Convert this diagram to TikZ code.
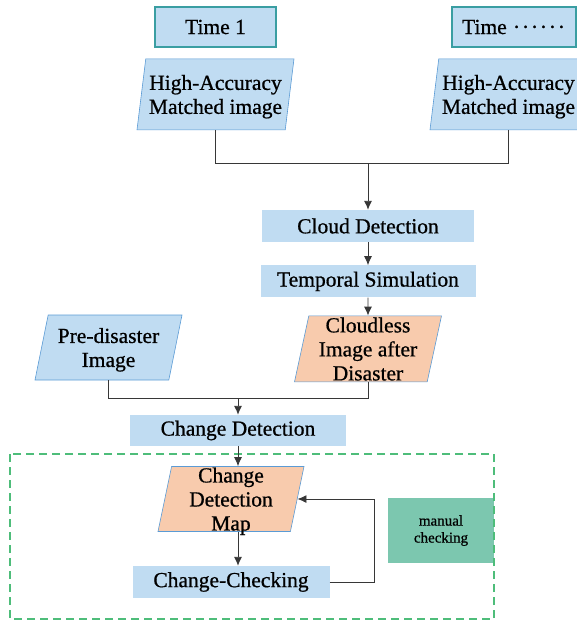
\documentclass[tikz,border=0pt]{standalone}
\usepackage{fontspec}
\setmainfont{LiberationSerif}[Extension=.ttf, UprightFont=*-Regular, BoldFont=*-Bold, UprightFeatures={FakeBold=0.7}]
\usetikzlibrary{positioning,shapes.geometric,arrows.meta}
\definecolor{boxclr}{RGB}{192,220,242}
\definecolor{rimclr}{RGB}{58,158,162}
\definecolor{edgeclr}{RGB}{91,155,213}
\definecolor{mapclr}{RGB}{248,203,173}
\definecolor{handclr}{RGB}{124,199,175}
\definecolor{zoneclr}{RGB}{78,189,122}
\definecolor{lineclr}{RGB}{55,55,55}
\newcommand\timedots{\foreach \k in {1,...,6}{\kern0.9pt\textperiodcentered\kern0.9pt}}
\tikzset{ %
  ,>={Latex[length=9pt,width=8pt]}
  ,every node/.style={font=\fontsize{21.5}{24}\selectfont, align=center, inner sep=0}
  ,timebox/.style={draw=rimclr, line width=1.2pt, fill=boxclr, minimum height=40pt}
  ,procbox/.style={fill=boxclr, minimum height=32pt}
  ,imgblk/.style 2 args={trapezium, trapezium left angle=#1, trapezium right angle=#2, trapezium stretches body, draw=edgeclr, line width=0.6pt, text depth=0pt}
  ,inblk/.style 2 args={imgblk={#1}{#2}, fill=boxclr}
  ,outblk/.style 2 args={imgblk={#1}{#2}, fill=mapclr}
  ,handbox/.style={fill=handclr, minimum width=106pt, minimum height=65pt, font=\fontsize{15}{17}\selectfont}
  ,zone/.style={draw=zoneclr, line width=1.2pt, dash pattern=on 8pt off 5pt}
  ,link/.style={draw=lineclr, line width=0.9pt}
}

\begin{document}
\begin{tikzpicture}[x=1pt, y=-1pt]
  \useasboundingbox (0,0) rectangle (577,621);
  % images of every date
  \node[timebox, minimum width=121pt] (t1) at (215.5,27) {Time 1};
  \node[timebox, minimum width=124pt] (tn) at (514,27) {Time \timedots};
  \node[inblk={77.3}{102.7}, minimum width=157pt, minimum height=71pt, below=11pt of t1] (hm1) {High-Accuracy\\Matched image};
  \node[inblk={77.3}{102.7}, minimum width=157pt, minimum height=71pt, below=11pt of tn, xshift=-5.5pt] (hmn) {High-Accuracy\\Matched image};
  % cloud removal
  \node[procbox, minimum width=212pt] (cloud) at (368,226) {Cloud Detection};
  \node[procbox, minimum width=215pt, below=23pt of cloud] (temp) {Temporal Simulation};
  \node[outblk={77.2}{102.8}, minimum width=147pt, minimum height=66pt, below=18pt of temp] (clear) {Cloudless\\Image after\\Disaster};
  \node[inblk={71.3}{108.7}, minimum width=147pt, minimum height=65pt] (pre) at (108.5,347.5) {Pre-disaster\\Image};
  % detection and checking
  \node[procbox, minimum width=216pt, minimum height=31pt] (chg) at (238,430.5) {Change Detection};
  \node[outblk={77.8}{102.2}, minimum width=146pt, minimum height=65pt, below=20pt of chg, xshift=-7pt] (map) {Change\\Detection\\Map};
  \node[procbox, minimum width=197pt, below=34pt of map] (check) {Change-Checking};
  \node[handbox] (hand) at (441,530.5) {manual\\checking};
  \draw[zone] (10,454) rectangle (494,619);

  \draw[link] (hm1.south) -- ++(0,33) coordinate (j1) -| (hmn.south);
  \draw[link,->] (j1 -| cloud.north) -- (cloud.north);
  \draw[link,->] (cloud) -- (temp);
  \draw[link,->] (temp) -- (clear);
  \draw[link] (pre.south) -- ++(0,18) coordinate (j2) -| (clear.south);
  \draw[link,->] (j2 -| chg.north) -- (chg.north);
  \draw[link,->] (chg) -- (chg.south |- map.north);
  \draw[link,->] (chg.south |- map.south) -- (chg.south |- check.north);
  \draw[link,->] (check.east) -- ++(45,0) |- (map.east);
\end{tikzpicture}
\end{document}
